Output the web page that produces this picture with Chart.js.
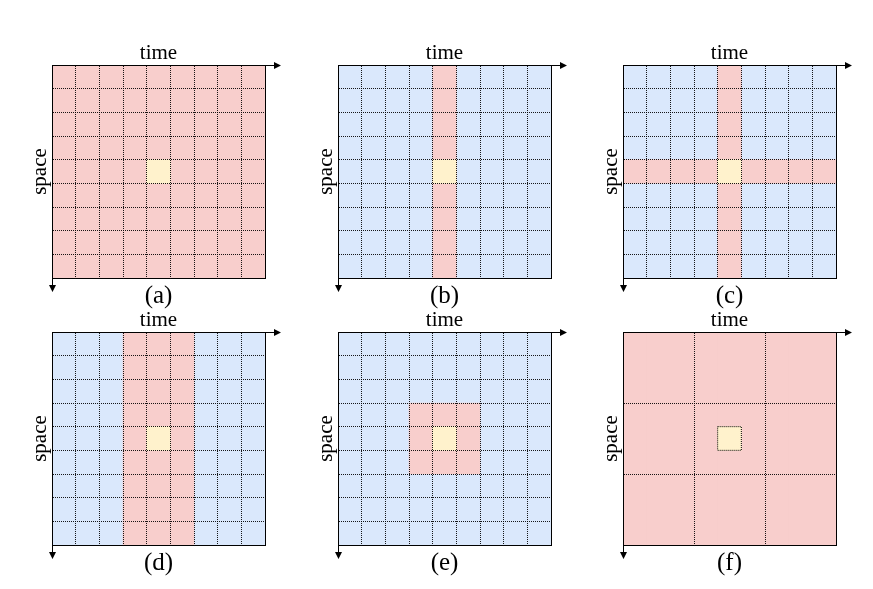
<!DOCTYPE html>
<html>
<head>
<title>Space-time receptive fields</title>
<script src="https://cdn.jsdelivr.net/npm/chart.js"></script>
<style>
  body { margin: 0; background: #fff; width: 873px; height: 589px; position: relative; overflow: hidden; }
  canvas { position: absolute; }
</style>
</head>
<body>
<script>
// ---- data: one entry per panel, (a) .. (f) ----
const PANEL_LABELS = ['(a)', '(b)', '(c)', '(d)', '(e)', '(f)'];
const X_TITLE = 'time';
const Y_TITLE = 'space';
const COLS = [0, 1, 2, 3, 4, 5, 6, 7, 8];      // 9 time steps
const FULL_SPAN = [0, 9];                      // 9 space rows
const ALL_COVERED = [true, false, false, false, false, true];
const PINK_COLS = [[], [4], [4], [3, 4, 5], [3, 4, 5], []];
const PINK_SPAN = [[0, 9], [0, 9], [0, 9], [0, 9], [3, 6], [0, 9]];
const PINK_ROW = [null, null, [4, 5], null, null, null];
const CENTRE = [4, 4];                         // column, row of the query cell
const GRID_STEP = [1, 1, 1, 1, 1, 3];
const OUTLINED = [false, false, false, false, false, true];

// ---- layout / style ----
const PANEL_X = [52, 338, 623];
const PANEL_Y = [65, 332];
const PINK = '#f8cecc';
const BLUE = '#dae8fc';
const YELLOW = '#fff2cc';
const DOT = 'rgba(0,0,0,0.9)';
const FONT = 'Liberation Serif';

const arrows = {
    id: 'arrows',
    afterDraw(chart) {
        const ctx = chart.ctx;
        const a = chart.chartArea;
        const top = Math.round(a.top) + 0.5;
        const left = Math.round(a.left) + 0.5;
        ctx.save();
        ctx.strokeStyle = '#000';
        ctx.fillStyle = '#000';
        ctx.lineWidth = 1;
        ctx.beginPath();
        ctx.moveTo(left, top);
        ctx.lineTo(a.right + 10, top);
        ctx.moveTo(left, top);
        ctx.lineTo(left, a.bottom + 9);
        ctx.stroke();
        ctx.beginPath();
        ctx.moveTo(a.right + 16, top);
        ctx.lineTo(a.right + 9, top - 3.5);
        ctx.lineTo(a.right + 9, top + 3.5);
        ctx.closePath();
        ctx.moveTo(left, a.bottom + 14);
        ctx.lineTo(left - 3.5, a.bottom + 7);
        ctx.lineTo(left + 3.5, a.bottom + 7);
        ctx.closePath();
        ctx.fill();
        ctx.restore();
    }
};

function panelDatasets(i) {
    const sets = [];
    sets.push({
        data: COLS.map(c => ({x: c + 0.5, y: FULL_SPAN})),
        backgroundColor: ALL_COVERED[i] ? PINK : BLUE,
        order: 4
    });
    if (PINK_COLS[i].length) {
        sets.push({
            data: PINK_COLS[i].map(c => ({x: c + 0.5, y: PINK_SPAN[i]})),
            backgroundColor: PINK,
            order: 3
        });
    }
    if (PINK_ROW[i]) {
        sets.push({
            data: COLS.map(c => ({x: c + 0.5, y: PINK_ROW[i]})),
            backgroundColor: PINK,
            order: 3
        });
    }
    const [c, r] = CENTRE;
    sets.push({
        data: [{x: c + 0.5, y: [r, r + 1]}],
        backgroundColor: YELLOW,
        order: 2
    });
    if (OUTLINED[i]) {
        // dotted outline round the query cell (only in f)
        sets.push({
            type: 'line',
            data: [{x: c, y: r}, {x: c + 1, y: r}, {x: c + 1, y: r + 1}, {x: c, y: r + 1}, {x: c, y: r}],
            borderColor: '#000',
            borderWidth: 1,
            borderDash: [1, 1],
            pointRadius: 0,
            fill: false,
            order: 1
        });
    }
    return sets;
}

function axis(position, step, title, titlePad, size) {
    const main = position === 'top' || position === 'left';
    return {
        type: 'linear',
        position: position,
        min: 0,
        max: 9,
        reverse: position === 'left' || position === 'right',
        offset: false,
        ticks: { display: false, stepSize: step },
        grid: {
            display: main,
            offset: false,
            drawTicks: false,
            tickLength: 0,
            color: DOT,
            lineWidth: 1,
            z: 1
        },
        border: { display: true, color: '#000', width: 1, dash: [1, 1], z: 2 },
        title: {
            display: !!title,
            text: title || '',
            color: '#000',
            font: { family: FONT, size: size, lineHeight: 1 },
            padding: titlePad
        }
    };
}

PANEL_LABELS.forEach((label, i) => {
    const canvas = document.createElement('canvas');
    canvas.width = 275;
    canvas.height = 280;
    canvas.style.left = (PANEL_X[i % 3] - 32) + 'px';
    canvas.style.top = (PANEL_Y[Math.floor(i / 3)] - 30) + 'px';
    document.body.appendChild(canvas);

    new Chart(canvas, {
        type: 'bar',
        data: { datasets: panelDatasets(i) },
        options: {
            responsive: false,
            animation: false,
            devicePixelRatio: 1,
            layout: { padding: { left: 9.5, top: 8, right: 30, bottom: 6.5 } },
            datasets: {
                bar: {
                    grouped: false,
                    barPercentage: 1,
                    categoryPercentage: 1,
                    borderWidth: 0
                }
            },
            scales: {
                x: axis('top', GRID_STEP[i], X_TITLE, { top: 0, bottom: 1 }, 21),
                y: axis('left', GRID_STEP[i], Y_TITLE, { top: 0, bottom: 1.5 }, 21),
                x2: axis('bottom', GRID_STEP[i], label, { top: 5.5, bottom: 0 }, 25),
                y2: axis('right', GRID_STEP[i], null, 0, 21)
            },
            plugins: {
                legend: { display: false },
                tooltip: { enabled: false },
                title: { display: false }
            }
        },
        plugins: [arrows]
    });
});
</script>
</body>
</html>
